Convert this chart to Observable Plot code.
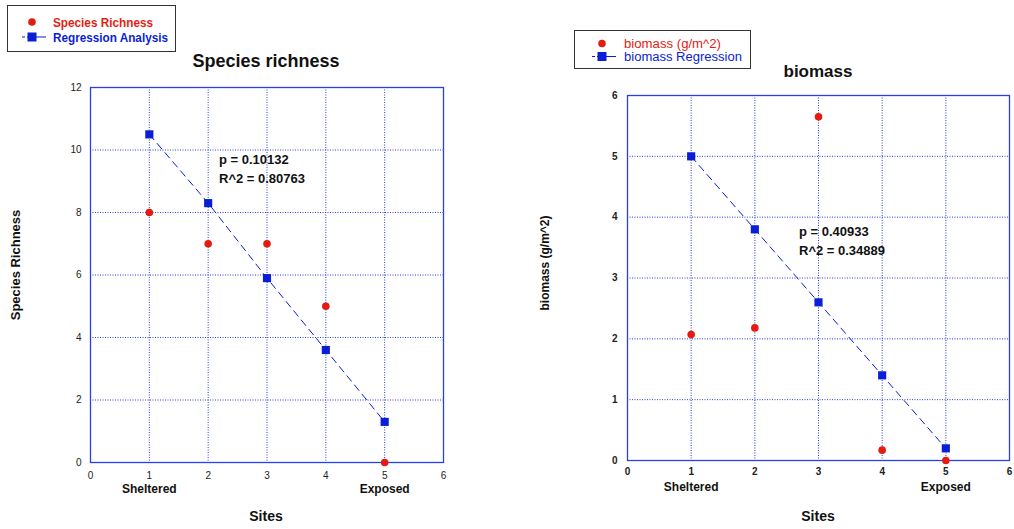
<!DOCTYPE html>
<html>
<head>
<meta charset="utf-8">
<script src="https://cdn.jsdelivr.net/npm/d3@7"></script>
<script src="https://cdn.jsdelivr.net/npm/@observablehq/plot@0.6"></script>
<style>
  html, body { margin: 0; padding: 0; background: #fff; }
  #root { position: relative; width: 1014px; height: 529px; overflow: hidden; font-family: "Liberation Sans", Arial, sans-serif; }
  #root svg { position: absolute; overflow: visible; }
  .abs { position: absolute; white-space: nowrap; }
  .legend { position: absolute; border: 1.5px solid #333; background: #fff; box-sizing: border-box; }
  .title { font-weight: bold; color: #111; transform: translate(-50%, -50%); }
  .ylab { font-weight: bold; color: #111; transform: translate(-50%, -50%) rotate(-90deg); }
  .ann { font-weight: bold; color: #111; font-size: 13px; line-height: 19px; }
</style>
</head>
<body>
<div id="root"></div>
<script>
// ---- data ----
const sites = [1, 2, 3, 4, 5];
const richness = [8, 7, 7, 5, 0];
const richnessFit = [10.5, 8.3, 5.9, 3.6, 1.3];
const biomass = [2.07, 2.18, 5.65, 0.17, 0.0];
const biomassFit = [5.0, 3.8, 2.6, 1.4, 0.2];
const xTicks = [0, 1, 2, 3, 4, 5, 6];
const richTicks = [0, 2, 4, 6, 8, 10, 12];
const bioTicks = [0, 1, 2, 3, 4, 5, 6];
const siteNames = [{x: 1, label: "Sheltered"}, {x: 5, label: "Exposed"}];

const RED = "#e51b12";
const BLUE = "#0a1ed6";
const GRID = "#2a3fe6";

const root = document.getElementById("root");

function chart({values, fit, yDomain, yTicks, width, height, mt, mr, mb, ml, left, top, tickBold, xPad, yPad}) {
  const obs = sites.map((s, i) => ({x: s, y: values[i]}));
  const reg = sites.map((s, i) => ({x: s, y: fit[i]}));
  const inner = xTicks.filter(t => t > 0 && t < 6);
  const innerY = yTicks.filter(t => t > yDomain[0] && t < yDomain[1]);
  const svg = Plot.plot({
    width, height,
    marginTop: mt, marginRight: mr, marginBottom: mb, marginLeft: ml,
    style: {fontFamily: "'Liberation Sans', Arial, sans-serif", fontSize: "10px", fontWeight: tickBold ? "bold" : "normal", color: "#222", background: "transparent"},
    x: {domain: [0, 6], ticks: xTicks, tickFormat: d => String(d), tickSize: 0, tickPadding: xPad, label: null},
    y: {domain: yDomain, ticks: yTicks, tickFormat: d => String(d), tickSize: 0, tickPadding: yPad, label: null},
    marks: [
      Plot.ruleX(inner, {stroke: GRID, strokeWidth: 1, strokeDasharray: "1,1.5"}),
      Plot.ruleY(innerY, {stroke: GRID, strokeWidth: 1, strokeDasharray: "1,1.5"}),
      Plot.frame({stroke: GRID, strokeWidth: 1.3}),
      Plot.line(reg, {x: "x", y: "y", stroke: BLUE, strokeWidth: 1, strokeDasharray: "7,5"}),
      Plot.dot(obs, {x: "x", y: "y", r: 3.8, fill: RED, stroke: "none"}),
      Plot.dot(reg, {x: "x", y: "y", symbol: "square", r: 4.6, fill: BLUE, stroke: "none"}),
      Plot.text(siteNames, {x: "x", text: "label", frameAnchor: "bottom", dy: 30, fontWeight: "bold", fontSize: 12, fill: "#111"})
    ]
  });
  svg.style.left = left + "px";
  svg.style.top = top + "px";
  root.appendChild(svg);
}

chart({values: richness, fit: richnessFit, yDomain: [0, 12], yTicks: richTicks,
  width: 460, height: 529, mt: 87, mr: 17, mb: 67, ml: 90, left: 0, top: 0, tickBold: false, xPad: 9, yPad: 9});
chart({values: biomass, fit: biomassFit, yDomain: [0, 6], yTicks: bioTicks,
  width: 495, height: 529, mt: 95, mr: 6, mb: 69, ml: 107, left: 520, top: 0, tickBold: true, xPad: 7, yPad: 10});

function addText(cls, text, x, y, css) {
  const d = document.createElement("div");
  d.className = "abs " + cls;
  d.textContent = text;
  d.style.left = x + "px";
  d.style.top = y + "px";
  Object.assign(d.style, css || {});
  root.appendChild(d);
  return d;
}

// titles
addText("title", "Species richness", 266, 61, {fontSize: "18px"});
addText("title", "biomass", 818, 72, {fontSize: "17px"});
addText("title", "Sites", 266, 516, {fontSize: "14px"});
addText("title", "Sites", 818, 516, {fontSize: "14px"});
// y labels
addText("ylab", "Species Richness", 15, 265, {fontSize: "13px"});
addText("ylab", "biomass (g/m^2)", 545, 263, {fontSize: "12px"});
// annotations
const ann1 = addText("ann", "", 219, 150);
ann1.innerHTML = "p = 0.10132<br>R^2 = 0.80763";
const ann2 = addText("ann", "", 799, 222);
ann2.innerHTML = "p = 0.40933<br>R^2 = 0.34889";

// legends
function legend(x, y, w, h, items, fontSize, bold, symX, textX, rowY) {
  const box = document.createElement("div");
  box.className = "legend";
  Object.assign(box.style, {left: x + "px", top: y + "px", width: w + "px", height: h + "px"});
  root.appendChild(box);
  const ns = "http://www.w3.org/2000/svg";
  const s = document.createElementNS(ns, "svg");
  s.setAttribute("width", w); s.setAttribute("height", h);
  s.style.left = "0px"; s.style.top = "0px";
  box.appendChild(s);
  items.forEach((it, i) => {
    const cy = rowY[i];
    if (it.kind === "dot") {
      const c = document.createElementNS(ns, "circle");
      c.setAttribute("cx", symX); c.setAttribute("cy", cy); c.setAttribute("r", 3.8); c.setAttribute("fill", it.color);
      s.appendChild(c);
    } else {
      const l = document.createElementNS(ns, "line");
      l.setAttribute("x1", symX - 10); l.setAttribute("x2", symX + 14); l.setAttribute("y1", cy); l.setAttribute("y2", cy);
      l.setAttribute("stroke", it.color); l.setAttribute("stroke-width", 1.2); l.setAttribute("stroke-dasharray", "3,2,30");
      s.appendChild(l);
      const r = document.createElementNS(ns, "rect");
      r.setAttribute("x", symX - 4.5); r.setAttribute("y", cy - 4.5); r.setAttribute("width", 9); r.setAttribute("height", 9); r.setAttribute("fill", it.color);
      s.appendChild(r);
    }
    const t = document.createElementNS(ns, "text");
    t.setAttribute("x", textX); t.setAttribute("y", cy); t.setAttribute("dy", "0.35em");
    t.setAttribute("fill", it.color);
    t.setAttribute("font-family", "'Liberation Sans', Arial, sans-serif"); t.setAttribute("font-size", fontSize);
    t.setAttribute("font-weight", bold ? "bold" : "normal");
    if (it.len) { t.setAttribute("textLength", it.len); t.setAttribute("lengthAdjust", "spacingAndGlyphs"); }
    t.textContent = it.label;
    s.appendChild(t);
  });
}
legend(7, 5, 169, 47, [
  {kind: "dot", color: RED, label: "Species Richness", len: 100},
  {kind: "sq", color: BLUE, label: "Regression Analysis", len: 115}
], 13, true, 24, 45, [16, 31]);
legend(574, 30, 177, 39, [
  {kind: "dot", color: RED, label: "biomass (g/m^2)", len: 97},
  {kind: "sq", color: BLUE, label: "biomass Regression", len: 118}
], 12.5, false, 27, 49, [12.5, 25.5]);
</script>
</body>
</html>
